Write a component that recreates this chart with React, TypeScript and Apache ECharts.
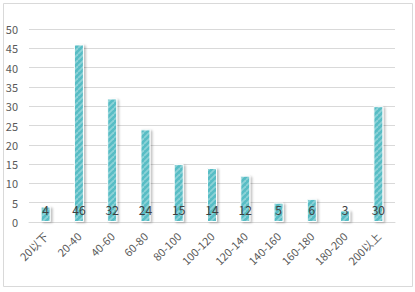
import React, { useEffect, useRef } from "react";
import * as echarts from "echarts";

const categories = ["20以下", "20-40", "40-60", "60-80", "80-100", "100-120", "120-140", "140-160", "160-180", "180-200", "200以上"];
const values = [4, 46, 32, 24, 15, 14, 12, 5, 6, 3, 30];
const yTicks = [0, 5, 10, 15, 20, 25, 30, 35, 40, 45, 50];

const FONT = "'Noto Sans CJK SC', 'Noto Sans', sans-serif";

function makePattern(): HTMLCanvasElement {
  const size = 6;
  const c = document.createElement("canvas");
  c.width = size;
  c.height = size;
  const ctx = c.getContext("2d")!;
  ctx.fillStyle = "#58bdc5";
  ctx.fillRect(0, 0, size, size);
  ctx.strokeStyle = "rgba(255,255,255,0.32)";
  ctx.lineWidth = 1.8;
  for (let k = -1; k <= 1; k++) {
    ctx.beginPath();
    ctx.moveTo(k * size, size);
    ctx.lineTo(k * size + size, 0);
    ctx.stroke();
  }
  return c;
}

export default function App() {
  const ref = useRef<HTMLDivElement>(null);
  useEffect(() => {
    document.body.style.margin = "0";
    const chart = echarts.init(ref.current!, undefined, { renderer: "svg" });
    chart.setOption({
      animation: false,
      backgroundColor: "#ffffff",
      graphic: [
        {
          type: "rect",
          shape: { x: 3.5, y: 3.5, width: 409, height: 283 },
          style: { fill: "none", stroke: "#d9d9d9", lineWidth: 1 },
          silent: true,
        },
      ],
      grid: { left: 29, right: 20, top: 29, bottom: 70, containLabel: false },
      xAxis: {
        type: "category",
        data: categories,
        axisLine: { show: true, lineStyle: { color: "#d9d9d9" } },
        axisTick: { show: false },
        axisLabel: {
          rotate: 45,
          color: "#595959",
          fontSize: 11,
          fontFamily: FONT,
          interval: 0,
          margin: 12,
        },
      },
      yAxis: {
        type: "value",
        min: yTicks[0],
        max: yTicks[yTicks.length - 1],
        interval: 5,
        axisLine: { show: false },
        axisTick: { show: false },
        splitLine: { lineStyle: { color: "#d9d9d9" } },
        axisLabel: { color: "#595959", fontSize: 11, fontFamily: FONT, margin: 11 },
      },
      series: [
        {
          type: "bar",
          data: values,
          barWidth: 10,
          itemStyle: {
            color: { image: makePattern(), repeat: "repeat" },
            borderColor: "#ffffff",
            borderWidth: 1,
            shadowColor: "rgba(0,0,0,0.25)",
            shadowBlur: 2,
            shadowOffsetX: 2,
            shadowOffsetY: 1,
          },
          label: {
            show: true,
            position: "insideBottom",
            distance: 7,
            color: "#404040",
            textBorderWidth: 0,
            fontSize: 12,
            fontFamily: FONT,
          },
        },
      ],
    });
    return () => chart.dispose();
  }, []);
  return <div ref={ref} style={{ width: 415, height: 292 }} />;
}
